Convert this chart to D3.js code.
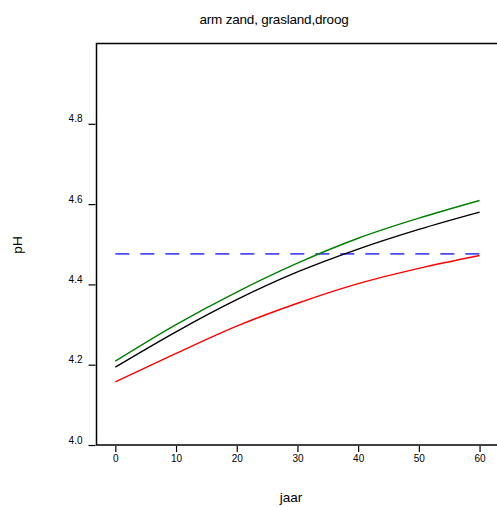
<!DOCTYPE html>
<html><head><meta charset="utf-8">
<script src="https://cdn.jsdelivr.net/npm/d3@7"></script>
<style>body{margin:0;background:#fff;}svg{display:block;font-family:"Liberation Sans",Arial,sans-serif;}</style>
</head><body>
<script>
const years = [0, 10, 20, 30, 40, 50, 60];
const greenSeries = [4.209, 4.300, 4.381, 4.453, 4.515, 4.565, 4.609];
const blackSeries = [4.194, 4.282, 4.362, 4.431, 4.488, 4.537, 4.580];
const redSeries   = [4.157, 4.228, 4.296, 4.353, 4.402, 4.440, 4.472];
const referenceLevel = 4.476;
const xTicks = [0, 10, 20, 30, 40, 50, 60];
const yTicks = [4.0, 4.2, 4.4, 4.6, 4.8];
const title = "arm zand, grasland,droog";
const xLabel = "jaar";
const yLabel = "pH";

const W = 497, H = 507;
const svg = d3.select("body").append("svg").attr("width", W).attr("height", H);

const x = d3.scaleLinear().domain([-3.1, 63.2]).range([96.5, 499]);
const y = d3.scaleLinear().domain([4.0, 5.0]).range([445, 43.5]);

// box
svg.append("rect").attr("x", x(-3.1)).attr("y", y(5.0))
  .attr("width", x(63.2) - x(-3.1)).attr("height", y(4.0) - y(5.0))
  .attr("fill", "none").attr("stroke", "#000").attr("stroke-width", 1.5);

// x axis
const xa = svg.append("g").attr("transform", `translate(0,${y(4.0)+1})`)
  .call(d3.axisBottom(x).tickValues(xTicks).tickSize(6).tickPadding(3).tickFormat(d3.format("d")));
xa.select(".domain").remove();
xa.selectAll("line").attr("stroke", "#000").attr("stroke-width", 1.2);
xa.selectAll("text").attr("font-size", 10).attr("fill", "#000").attr("font-family", "Liberation Sans, Arial, sans-serif");

// y axis
const ya = svg.append("g").attr("transform", `translate(${x(-3.1)-1},0)`)
  .call(d3.axisLeft(y).tickValues(yTicks).tickSize(7).tickPadding(6).tickFormat(d3.format(".1f")));
ya.select(".domain").remove();
ya.selectAll("line").attr("stroke", "#000").attr("stroke-width", 1.2);
ya.selectAll("text").attr("font-size", 10).attr("fill", "#000").attr("dy", "-0.2em").attr("font-family", "Liberation Sans, Arial, sans-serif");

const line = d3.line().x((d, i) => x(years[i])).y(d => y(d)).curve(d3.curveMonotoneX);

svg.append("line").attr("x1", x(0)).attr("x2", x(60))
  .attr("y1", y(referenceLevel)).attr("y2", y(referenceLevel))
  .attr("stroke", "#4a4aff").attr("stroke-width", 1.8).attr("stroke-dasharray", "14,11");

[[greenSeries, "#008000"], [blackSeries, "#000000"], [redSeries, "#ff0000"]].forEach(([s, c]) => {
  svg.append("path").datum(s).attr("d", line).attr("fill", "none")
    .attr("stroke", c).attr("stroke-width", 1.4);
});

svg.append("text").attr("x", 274).attr("y", 24).attr("text-anchor", "middle")
  .attr("font-size", 13.5).attr("letter-spacing", "-0.2").text(title);
svg.append("text").attr("x", 291).attr("y", 502).attr("text-anchor", "middle")
  .attr("font-size", 13.5).text(xLabel);
svg.append("text").attr("transform", "translate(22,245) rotate(-90)").attr("text-anchor", "middle")
  .attr("font-size", 13.5).text(yLabel);
</script>
</body></html>
